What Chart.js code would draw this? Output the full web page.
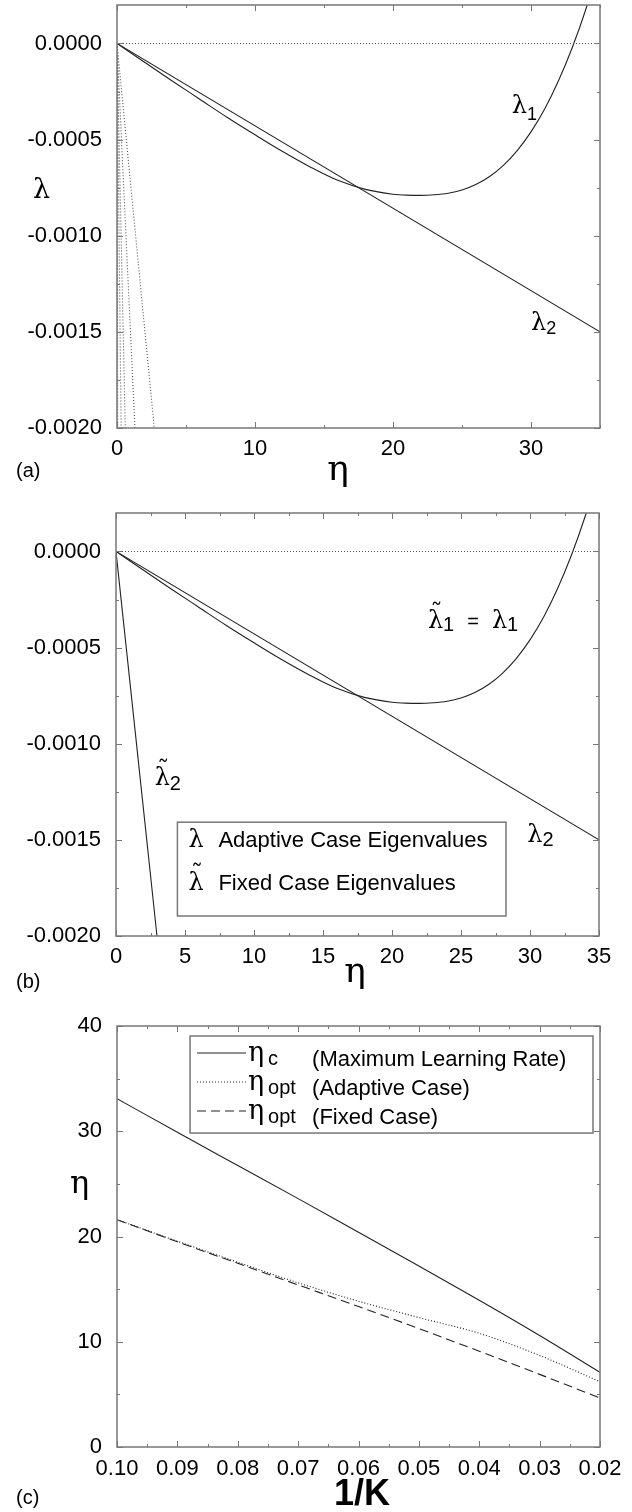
<!DOCTYPE html>
<html>
<head>
<meta charset="utf-8">
<title>Eigenvalues and learning rates</title>
<script src="https://cdn.jsdelivr.net/npm/chart.js@4.4.1/dist/chart.umd.min.js"></script>
<style>
  html, body { margin: 0; padding: 0; background: #fff; }
  body { width: 632px; height: 1512px; position: relative; overflow: hidden; }
  .panel { position: absolute; left: 0; width: 632px; }
  canvas { display: block; }
</style>
</head>
<body>
<div class="panel" style="top:0;height:490px"><canvas id="panelA" width="632" height="490"></canvas></div>
<div class="panel" style="top:490px;height:510px"><canvas id="panelB" width="632" height="510"></canvas></div>
<div class="panel" style="top:1000px;height:512px"><canvas id="panelC" width="632" height="512"></canvas></div>
<script>
(function () {
  'use strict';

  /* ── Data: panels (a) and (b), eigenvalues vs learning rate ─────── */

  var ETA = [0, 2, 4, 6, 8, 10, 12, 14, 16, 18, 20, 21, 22, 23, 24, 25, 26, 27, 28, 29, 30, 31, 32, 33, 34, 35];
  var LAMBDA1 = [0, -0.000098, -0.000195, -0.00029, -0.000385, -0.000475, -0.000562, -0.000642,
    -0.000712, -0.000759, -0.000784, -0.000789, -0.00079, -0.000787, -0.000779, -0.000762,
    -0.000734, -0.000692, -0.000634, -0.000557, -0.00046, -0.00034, -0.000193, -0.00002,
    0.000183, 0.00042];

  var ETA_LINE = [0, 35];
  var LAMBDA2 = [0, -0.0015];
  var ZERO_LINE = [0, 0];

  /* fixed-case modes in (a): all start at the origin, leave the plot at -0.002 */
  var FAST_ETA_END = [0.05, 0.3, 0.6, 1.3, 2.7];
  var FAST_LAMBDA_END = -0.002;

  /* lambda~2 in (b) */
  var TILDE2_ETA = [0, 2.97];
  var TILDE2_LAMBDA = [0, -0.002];

  var ETA_TICKS_A = [0, 10, 20, 30];
  var ETA_MINOR_A = [5, 15, 25, 35];
  var ETA_TICKS_B = [0, 5, 10, 15, 20, 25, 30, 35];
  var ETA_MINOR_B = [2.5, 7.5, 12.5, 17.5, 22.5, 27.5, 32.5];
  var LAMBDA_TICKS = [-0.002, -0.0015, -0.001, -0.0005, 0];
  var LAMBDA_MINOR = [-0.00175, -0.00125, -0.00075, -0.00025];

  /* ── Data: panel (c), learning rates vs 1/K ─────────────────────── */

  var INV_K = [0.10, 0.09, 0.08, 0.07, 0.06, 0.05, 0.04, 0.03, 0.02];
  var ETA_C = [33.1, 29.9, 26.75, 23.6, 20.4, 17.2, 13.95, 10.6, 7.1];
  var ETA_OPT_ADAPT = [21.6, 19.55, 17.55, 15.6, 13.85, 12.3, 10.8, 8.7, 6.2];
  var ETA_OPT_FIXED = [21.6, 19.5, 17.45, 15.4, 13.35, 11.25, 9.1, 6.9, 4.65];

  var INVK_TICKS = [0.10, 0.09, 0.08, 0.07, 0.06, 0.05, 0.04, 0.03, 0.02];
  var INVK_MINOR = [0.095, 0.085, 0.075, 0.065, 0.055, 0.045, 0.035, 0.025];
  var ETAC_TICKS = [0, 10, 20, 30, 40];
  var ETAC_MINOR = [5, 15, 25, 35];

  /* ── Style ──────────────────────────────────────────────────────── */

  var INK = '#000';
  var CURVE = '#222';
  var FRAME = '#777';
  var DOTTED = [1, 2];
  var DASHED = [9, 5];
  var SANS_FAMILY = '"Liberation Sans", Arial, Helvetica, sans-serif';

  function greek(size) { return size + 'px "DejaVu Serif", "Liberation Serif", serif'; }
  function sans(size, bold) { return (bold ? 'bold ' : '') + size + 'px ' + SANS_FAMILY; }

  function pts(xs, ys) {
    return xs.map(function (x, i) { return { x: x, y: ys[i] }; });
  }

  function series(xs, ys, dash, color) {
    return {
      data: pts(xs, ys),
      borderColor: color || CURVE,
      borderWidth: 1.1,
      borderDash: dash || [],
      pointRadius: 0,
      cubicInterpolationMode: 'monotone',
      fill: false
    };
  }

  /* ── Text helpers ───────────────────────────────────────────────── */

  /* parts: [{t, font, dy, gap, tilde}] drawn one after the other */
  function drawRich(ctx, x, y, parts, align) {
    var total = 0;
    parts.forEach(function (p) {
      ctx.font = p.font;
      total += (p.gap || 0) + ctx.measureText(p.t).width;
    });
    var cx = align === 'center' ? x - total / 2 : x;
    parts.forEach(function (p) {
      ctx.font = p.font;
      cx += p.gap || 0;
      var w = ctx.measureText(p.t).width;
      ctx.textAlign = 'left';
      ctx.fillText(p.t, cx, y + (p.dy || 0));
      if (p.tilde) {
        ctx.textAlign = 'center';
        ctx.fillText('\u02DC', cx + w / 2 + 1, y + (p.dy || 0) - p.size * 0.32);
      }
      cx += w;
    });
  }

  function lam(size, tilde) { return { t: '\u03BB', font: greek(size), size: size, tilde: !!tilde }; }
  function sub(text, dy, size) { return { t: text, font: sans(size || 18), dy: dy }; }

  /* ── Plugins ────────────────────────────────────────────────────── */

  /* frame box with inward ticks on all four sides */
  function framePlugin(spec) {
    return {
      id: 'frame',
      afterDatasetsDraw: function (chart) {
        var ctx = chart.ctx, a = chart.chartArea;
        var xs = chart.scales.x, ys = chart.scales.y;
        ctx.save();
        ctx.strokeStyle = FRAME;
        ctx.lineWidth = 1;
        function seg(x1, y1, x2, y2) {
          ctx.beginPath(); ctx.moveTo(x1, y1); ctx.lineTo(x2, y2); ctx.stroke();
        }
        function xTick(v, len) {
          var p = Math.round(xs.getPixelForValue(v)) + 0.5;
          seg(p, a.bottom, p, a.bottom - len);
          seg(p, a.top, p, a.top + len);
        }
        function yTick(v, len) {
          var p = Math.round(ys.getPixelForValue(v)) + 0.5;
          seg(a.left, p, a.left + len, p);
          seg(a.right, p, a.right - len, p);
        }
        spec.xMajor.forEach(function (v) { xTick(v, 6); });
        spec.xMinor.forEach(function (v) { xTick(v, 3); });
        spec.yMajor.forEach(function (v) { yTick(v, 6); });
        spec.yMinor.forEach(function (v) { yTick(v, 3); });
        ctx.lineWidth = 1.5;
        ctx.strokeRect(a.left, a.top, a.right - a.left, a.bottom - a.top);
        ctx.restore();
      }
    };
  }

  /* curve labels (data coords), legend boxes and free titles (page px) */
  function textPlugin(spec) {
    return {
      id: 'texts',
      afterDraw: function (chart) {
        var ctx = chart.ctx, xs = chart.scales.x, ys = chart.scales.y;
        ctx.save();
        ctx.fillStyle = INK;
        ctx.textBaseline = 'alphabetic';

        (spec.legends || []).forEach(function (lg) {
          var x1 = xs.getPixelForValue(lg.from[0]), y1 = ys.getPixelForValue(lg.from[1]);
          var x2 = xs.getPixelForValue(lg.to[0]), y2 = ys.getPixelForValue(lg.to[1]);
          var l = Math.min(x1, x2), t = Math.min(y1, y2);
          ctx.fillStyle = '#fff';
          ctx.fillRect(l, t, Math.abs(x2 - x1), Math.abs(y2 - y1));
          ctx.strokeStyle = FRAME;
          ctx.lineWidth = 1.5;
          ctx.strokeRect(l, t, Math.abs(x2 - x1), Math.abs(y2 - y1));
          ctx.fillStyle = INK;
          lg.rows.forEach(function (r) {
            if (r.sample) {
              ctx.strokeStyle = CURVE;
              ctx.lineWidth = 1.1;
              ctx.setLineDash(r.sample);
              ctx.beginPath();
              ctx.moveTo(l + 7, t + r.base - 13);
              ctx.lineTo(l + 56, t + r.base - 13);
              ctx.stroke();
              ctx.setLineDash([]);
            }
            r.items.forEach(function (it) {
              drawRich(ctx, l + it.dx, t + r.base + (it.dy || 0), it.parts);
            });
          });
        });

        (spec.labels || []).forEach(function (lb) {
          drawRich(ctx, xs.getPixelForValue(lb.at[0]), ys.getPixelForValue(lb.at[1]), lb.parts);
        });

        (spec.titles || []).forEach(function (tl) {
          drawRich(ctx, tl.px[0], tl.px[1] - spec.pageTop, tl.parts, tl.align);
        });
        ctx.restore();
      }
    };
  }

  /* ── Chart builder ──────────────────────────────────────────────── */

  function makeChart(id, p) {
    var fixPad = function (s) {
      s.paddingTop = 0; s.paddingBottom = 0; s.paddingLeft = 0; s.paddingRight = 0;
    };
    return new Chart(document.getElementById(id), {
      type: 'line',
      data: { datasets: p.datasets },
      options: {
        responsive: false,
        animation: false,
        events: [],
        layout: { padding: { top: p.padTop, right: p.padRight, left: 0, bottom: 0 } },
        plugins: { legend: { display: false }, tooltip: { enabled: false }, title: { display: false } },
        scales: {
          x: {
            type: 'linear',
            min: p.xMin, max: p.xMax, reverse: !!p.xReverse,
            grid: { display: false, drawTicks: false }, border: { display: false },
            afterBuildTicks: function (s) { s.ticks = p.xTicks.map(function (v) { return { value: v }; }); },
            afterFit: function (s) { s.height = p.xHeight; fixPad(s); },
            ticks: {
              autoSkip: false, maxRotation: 0, padding: p.xPad, color: INK,
              font: { family: SANS_FAMILY, size: 22 },
              callback: p.xFmt
            }
          },
          y: {
            type: 'linear',
            min: p.yMin, max: p.yMax,
            grid: { display: false, drawTicks: false }, border: { display: false },
            afterBuildTicks: function (s) { s.ticks = p.yTicks.map(function (v) { return { value: v }; }); },
            afterFit: function (s) { s.width = p.yWidth; fixPad(s); },
            ticks: {
              autoSkip: false, padding: 15, color: INK,
              font: { family: SANS_FAMILY, size: 22 },
              callback: p.yFmt
            }
          }
        }
      },
      plugins: [framePlugin(p.frame), textPlugin(p.texts)]
    });
  }

  var fmtLambda = function (v) { return Number(v).toFixed(4); };
  var fmtInt = function (v) { return String(v); };
  var fmtInvK = function (v) { return Number(v).toFixed(2); };

  /* ── Panel (a) ──────────────────────────────────────────────────── */

  var dsA = [series(ETA_LINE, ZERO_LINE, DOTTED, '#555')];
  FAST_ETA_END.forEach(function (e) {
    dsA.push(series([0, e], [0, FAST_LAMBDA_END], DOTTED, '#555'));
  });
  dsA.push(series(ETA_LINE, LAMBDA2));
  dsA.push(series(ETA, LAMBDA1));

  makeChart('panelA', {
    datasets: dsA,
    padTop: 5, padRight: 32, xHeight: 62, yWidth: 117, xPad: 8,
    xMin: 0, xMax: 35, yMin: -0.002, yMax: 0.0002,
    xTicks: ETA_TICKS_A, yTicks: LAMBDA_TICKS, xFmt: fmtInt, yFmt: fmtLambda,
    frame: { xMajor: ETA_TICKS_A, xMinor: ETA_MINOR_A, yMajor: LAMBDA_TICKS, yMinor: LAMBDA_MINOR },
    texts: {
      pageTop: 0,
      labels: [
        { at: [28.6, -0.000364], parts: [lam(24), sub('1', 7)] },
        { at: [30.0, -0.00149], parts: [lam(24), sub('2', 4)] }
      ],
      titles: [
        { px: [33, 198], parts: [lam(27)] },
        { px: [338, 480], parts: [{ t: '\u03B7', font: greek(36) }], align: 'center' },
        { px: [16, 477], parts: [{ t: '(a)', font: sans(20) }] }
      ]
    }
  });

  /* ── Panel (b) ──────────────────────────────────────────────────── */

  makeChart('panelB', {
    datasets: [
      series(ETA_LINE, ZERO_LINE, DOTTED, '#555'),
      series(TILDE2_ETA, TILDE2_LAMBDA),
      series(ETA_LINE, LAMBDA2),
      series(ETA, LAMBDA1)
    ],
    padTop: 23, padRight: 33, xHeight: 64, yWidth: 116, xPad: 8,
    xMin: 0, xMax: 35, yMin: -0.002, yMax: 0.0002,
    xTicks: ETA_TICKS_B, yTicks: LAMBDA_TICKS, xFmt: fmtInt, yFmt: fmtLambda,
    frame: { xMajor: ETA_TICKS_B, xMinor: ETA_MINOR_B, yMajor: LAMBDA_TICKS, yMinor: LAMBDA_MINOR },
    texts: {
      pageTop: 490,
      labels: [
        { at: [22.6, -0.0004], parts: [lam(24, true), sub('1', 3, 20),
          { t: '=', font: sans(20), gap: 13 }, { t: '\u03BB', font: greek(24), gap: 13 }, sub('1', 3, 20)] },
        { at: [2.8, -0.001216], parts: [lam(24, true), sub('2', 5, 20)] },
        { at: [29.8, -0.00151], parts: [lam(24), sub('2', 4, 20)] }
      ],
      legends: [{
        from: [4.45, -0.001408], to: [28.26, -0.001896],
        rows: [
          { base: 25, items: [{ dx: 11, parts: [lam(24)] },
            { dx: 41, parts: [{ t: 'Adaptive Case Eigenvalues', font: sans(22) }] }] },
          { base: 68, items: [{ dx: 11, parts: [lam(24, true)] },
            { dx: 41, parts: [{ t: 'Fixed Case Eigenvalues', font: sans(22) }] }] }
        ]
      }],
      titles: [
        { px: [355, 982], parts: [{ t: '\u03B7', font: greek(36) }], align: 'center' },
        { px: [16, 988], parts: [{ t: '(b)', font: sans(20) }] }
      ]
    }
  });

  /* ── Panel (c) ──────────────────────────────────────────────────── */

  function etaRow(base, sample, subText, desc) {
    return {
      base: base, sample: sample,
      items: [
        { dx: 58, dy: -5, parts: [{ t: '\u03B7', font: greek(27) }] },
        { dx: 78, dy: -1, parts: [{ t: subText, font: sans(20) }] },
        { dx: 122, parts: [{ t: desc, font: sans(22) }] }
      ]
    };
  }

  makeChart('panelC', {
    datasets: [
      series(INV_K, ETA_OPT_FIXED, DASHED),
      series(INV_K, ETA_OPT_ADAPT, DOTTED),
      series(INV_K, ETA_C)
    ],
    padTop: 26, padRight: 32, xHeight: 65, yWidth: 117, xPad: 9,
    xMin: 0.02, xMax: 0.10, xReverse: true, yMin: 0, yMax: 40,
    xTicks: INVK_TICKS, yTicks: ETAC_TICKS, xFmt: fmtInvK, yFmt: fmtInt,
    frame: { xMajor: INVK_TICKS, xMinor: INVK_MINOR, yMajor: ETAC_TICKS, yMinor: ETAC_MINOR },
    texts: {
      pageTop: 1000,
      legends: [{
        from: [0.0879, 39.05], to: [0.02116, 29.83],
        rows: [
          etaRow(30, [], 'c', '(Maximum Learning Rate)'),
          etaRow(59, DOTTED, 'opt', '(Adaptive Case)'),
          etaRow(88, DASHED, 'opt', '(Fixed Case)')
        ]
      }],
      titles: [
        { px: [70, 1193], parts: [{ t: '\u03B7', font: greek(32) }] },
        { px: [362, 1505], parts: [{ t: '1/K', font: sans(36, true) }], align: 'center' },
        { px: [16, 1504], parts: [{ t: '(c)', font: sans(20) }] }
      ]
    }
  });
})();
</script>
</body>
</html>
